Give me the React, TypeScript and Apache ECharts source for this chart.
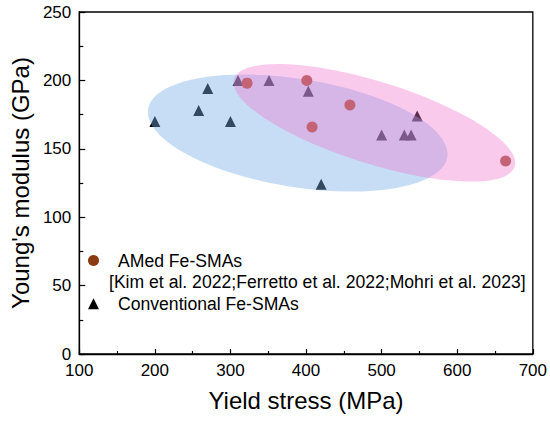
import React, { useEffect, useRef } from "react";
import * as echarts from "echarts";

// ---- data ----
const amedX = [322, 401, 458, 408, 664];
const amedY = [198, 200, 182, 166, 141];
const convX = [200, 258, 270, 300, 310, 351, 403, 420, 500, 530, 539, 547];
const convY = [170, 178, 194, 170, 200, 200, 192, 124, 160, 160, 160, 174];
// ellipse: major-axis end points (x1,y1,x2,y2) and semi-minor axis in GPa
const blueEllipse = [191, 179, 587, 144, 39.5];
const pinkEllipse = [305, 201, 676, 137, 30];
const xTicks = [100, 200, 300, 400, 500, 600, 700];
const yTicks = [0, 50, 100, 150, 200, 250];
const seriesNames = ["AMed Fe-SMAs", "Conventional Fe-SMAs"];
const citation = "[Kim et al. 2022;Ferretto et al. 2022;Mohri et al. 2023]";

const FONT = "'Liberation Sans', Arial, sans-serif";

function ellipseRender(fill: string) {
  return (params: any, api: any) => {
    const p1 = api.coord([api.value(0), api.value(1)]);
    const p2 = api.coord([api.value(2), api.value(3)]);
    const dx = p2[0] - p1[0];
    const dy = p2[1] - p1[1];
    const rx = Math.hypot(dx, dy) / 2;
    const ry = api.size([0, api.value(4)])[1];
    const ang = Math.atan2(dy, dx);
    return {
      type: "ellipse",
      x: (p1[0] + p2[0]) / 2,
      y: (p1[1] + p2[1]) / 2,
      rotation: -ang,
      shape: { cx: 0, cy: 0, rx, ry },
      style: { fill },
    };
  };
}

export default function App() {
  const ref = useRef<HTMLDivElement>(null);
  useEffect(() => {
    if (!ref.current) return;
    const chart = echarts.init(ref.current, null, { renderer: "svg" });
    chart.setOption({
      animation: false,
      backgroundColor: "#fff",
      grid: {
        left: 72,
        right: 17,
        top: 12,
        bottom: 69,
        show: true,
        borderColor: "#000",
        borderWidth: 1.3,
        backgroundColor: "transparent",
      },
      xAxis: {
        type: "value",
        min: xTicks[0],
        max: xTicks[xTicks.length - 1],
        interval: 100,
        name: "Yield stress (MPa)",
        nameLocation: "middle",
        nameGap: 34,
        nameTextStyle: { fontFamily: FONT, fontSize: 24, color: "#000" },
        axisLine: { show: true, lineStyle: { color: "#000", width: 1.3 } },
        axisTick: { show: true, inside: true, length: 5, lineStyle: { color: "#000", width: 1.2 } },
        minorTick: { show: true, splitNumber: 2, length: 3, lineStyle: { color: "#000", width: 1.2 } },
        axisLabel: { fontFamily: FONT, fontSize: 17, color: "#000", margin: 8 },
        splitLine: { show: false },
      },
      yAxis: {
        type: "value",
        min: yTicks[0],
        max: yTicks[yTicks.length - 1],
        interval: 50,
        name: "Young's modulus (GPa)",
        nameLocation: "middle",
        nameGap: 40,
        nameTextStyle: { fontFamily: FONT, fontSize: 24, color: "#000" },
        axisLine: { show: true, lineStyle: { color: "#000", width: 1.3 } },
        axisTick: { show: true, inside: true, length: 6, lineStyle: { color: "#000", width: 1.2 } },
        minorTick: { show: true, splitNumber: 2, length: 4, lineStyle: { color: "#000", width: 1.2 } },
        axisLabel: { fontFamily: FONT, fontSize: 17, color: "#000", margin: 8 },
        splitLine: { show: false },
      },
      legend: {
        data: [
          { name: seriesNames[0], icon: "circle" },
          { name: seriesNames[1], icon: "triangle" },
        ],
        orient: "vertical",
        left: 83,
        top: 246.5,
        itemWidth: 11,
        itemHeight: 11,
        itemGap: 25.3,
        textStyle: {
          fontFamily: FONT,
          fontSize: 17.6,
          color: "#000",
          lineHeight: 18,
          padding: [0, 0, 0, 14],
        },
      },
      graphic: [
        {
          type: "text",
          left: 109,
          top: 273,
          style: {
            text: citation,
            fontFamily: FONT,
            fontSize: 17.6,
            lineHeight: 18,
            fill: "#000",
          },
        },
      ],
      series: [
        {
          name: seriesNames[0],
          type: "scatter",
          symbol: "circle",
          symbolSize: 11,
          z: 5,
          itemStyle: { color: "#8b3a12", opacity: 1 },
          data: amedX.map((x, i) => ({
            value: [x, amedY[i]],
            itemStyle: { color: "#a85a40" },
          })),
        },
        {
          name: seriesNames[1],
          type: "scatter",
          symbol: "triangle",
          symbolSize: 11,
          z: 2,
          itemStyle: { color: "#000", opacity: 1 },
          data: convX.map((x, i) => [x, convY[i]]),
        },
        {
          type: "custom",
          z: 4,
          silent: true,
          encode: { x: [0, 2], y: [1, 3] },
          renderItem: ellipseRender("rgba(120,175,230,0.42)"),
          data: [blueEllipse],
        },
        {
          type: "custom",
          z: 6,
          silent: true,
          encode: { x: [0, 2], y: [1, 3] },
          renderItem: ellipseRender("rgba(242,115,208,0.38)"),
          data: [pinkEllipse],
        },
      ],
    });
    return () => chart.dispose();
  }, []);
  return (
    <div
      ref={ref}
      style={{ position: "fixed", left: 0, top: 0, width: 550, height: 423 }}
    />
  );
}
